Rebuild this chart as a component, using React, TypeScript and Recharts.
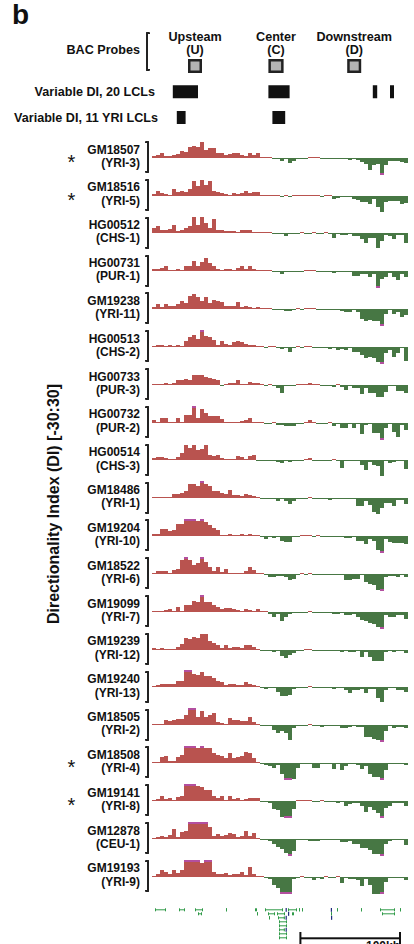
import React from 'react';
import { BarChart, Bar, XAxis, YAxis } from 'recharts';

// 20 LCLs, top to bottom
const SAMPLES = ['GM18507', 'GM18516', 'HG00512', 'HG00731', 'GM19238', 'HG00513', 'HG00733', 'HG00732', 'HG00514', 'GM18486',
  'GM19204', 'GM18522', 'GM19099', 'GM19239', 'GM19240', 'GM18505', 'GM18508', 'GM19141', 'GM12878', 'GM19193'];
const POPULATIONS = ['YRI-3', 'YRI-5', 'CHS-1', 'PUR-1', 'YRI-11', 'CHS-2', 'PUR-3', 'PUR-2', 'CHS-3', 'YRI-1',
  'YRI-10', 'YRI-6', 'YRI-7', 'YRI-12', 'YRI-13', 'YRI-2', 'YRI-4', 'YRI-8', 'CEU-1', 'YRI-9'];
const STARRED = ['GM18507', 'GM18516', 'GM18508', 'GM19141'];

// directionality index per bin (values beyond +-30 are clipped in the plot)
const DI_GM18507 = [4, 5, 9, 4, 4, 6, 7, 13, 11, 20, 22, 19, 29, 15, 18, 17, 8, 9, 6, 7, 8, 9, 5, 4, 8, 6, 8, 1, 1, 1, -1, -1, -6, -2, -8, -6, -2, -1, -1, 1, 2, 2, -1, -1, -1, -1, -1, -1, -2, -3, -2, -3, -7, -11, -21, -12, -10, -34, -12, -6, -6, -6, -7, -9];
const DI_GM18516 = [4, 9, 6, 4, 2, 13, 7, 9, 7, 12, 27, 17, 29, 19, 26, 9, 7, 5, 4, 2, 5, 3, 5, 8, 6, 7, 7, 1, 1, 1, 1, 1, -2, 1, -2, 1, 1, 1, 1, 2, 1, 1, -1, 1, 1, -6, -3, -1, -1, -1, -6, -7, -10, -10, -14, -6, -20, -28, -10, -8, -8, -8, -14, -12];
const DI_HG00512 = [8, 12, 5, 6, 7, 15, 4, 6, 8, 13, 28, 15, 29, 18, 9, 24, 6, 5, 4, 4, 4, 1, 6, 5, 5, 1, 1, 1, 1, 1, -1, -1, -1, -5, -1, -1, -1, 1, -1, -1, 1, -1, -1, 1, -1, -8, -1, -3, -3, -1, -5, -5, -10, -18, -8, -8, -26, -14, -3, -5, -10, -3, -3, -18];
const DI_HG00731 = [4, 3, 5, 9, 2, 2, 3, 1, 8, 9, 17, 8, 16, 23, 15, 8, 4, 2, 4, 4, 2, 5, 8, 3, 9, 3, 1, 2, 1, 1, -1, -1, -6, -2, -2, -1, -1, -1, 1, 1, 1, -1, -1, -1, -1, -3, -1, -1, -2, -2, -8, -8, -6, -6, -10, -6, -34, -14, -10, -3, -10, -16, -5, -10];
const DI_GM19238 = [4, 9, 3, 9, 6, 6, 8, 15, 10, 23, 27, 21, 15, 22, 11, 16, 15, 12, 6, 5, 5, 12, 4, 5, 4, 2, 3, 2, 1, 1, -1, -1, -1, -3, -3, -2, 1, -1, 1, 1, 1, -1, -1, -1, -2, -1, -1, -3, -6, -5, -2, -6, -18, -22, -20, -22, -22, -34, -8, -2, -8, -5, -14, -10];
const DI_HG00513 = [2, 3, 3, 2, 3, 1, 4, 2, 10, 18, 22, 15, 33, 19, 17, 13, 4, 10, 6, 4, 8, 10, 8, 5, 3, 4, 1, 1, -1, 1, 1, -1, -3, -1, -8, -1, 1, -1, 1, 1, -1, -1, -1, -1, -3, -1, -5, -3, -6, -1, -8, -8, -14, -20, -18, -20, -26, -34, -10, -5, -18, -10, -2, -24];
const DI_HG00733 = [2, 2, 2, 4, 2, 3, 8, 8, 11, 9, 17, 18, 18, 15, 12, 10, 8, -1, 2, 3, 4, 8, 2, 1, 6, 4, 3, 1, -1, 1, -1, -5, -14, -1, -1, -1, 1, 1, 1, 3, 1, 1, -1, -1, -1, -3, 1, -3, -8, -1, -6, -6, -16, -6, -14, -14, -22, -22, -12, -1, -1, -10, -10, -14];
const DI_HG00732 = [5, 1, 9, 8, 2, 1, 9, 2, 15, 15, 33, 8, 25, 18, 13, 13, 12, 7, 2, 2, 2, 2, 3, 6, 9, 1, 1, 1, -1, -1, 1, -3, -3, -6, -6, -6, -1, -1, 1, 6, 2, -1, -1, -1, 1, -6, -2, -8, -8, -1, -8, -1, -20, -3, -2, -18, -18, -34, -8, -2, -16, -24, -3, -12];
const DI_HG00514 = [4, 5, 6, 4, 1, 2, 6, 12, 27, 22, 27, 18, 20, 27, 9, 7, 9, 4, 2, 2, 1, 7, 6, 1, 7, 8, -1, -1, -1, -1, -1, -4, -6, -1, -4, -1, -1, -1, 1, 3, -1, -1, -1, -1, -1, 1, -1, -14, -1, -1, -1, -1, -8, -18, -3, -8, -10, -28, -1, -6, -3, -1, -1, -16];
const DI_GM18486 = [1, 1, 1, 2, 1, 7, 7, 9, 13, 25, 24, 21, 32, 24, 21, 13, 13, 9, 7, 14, 5, 6, 4, 7, 5, 4, 2, -1, -1, -1, -1, -5, -1, -6, -10, -6, -2, -2, -2, 2, -1, -1, -1, -1, -3, -1, -1, -2, -2, -1, -1, -14, -14, -6, -12, -24, -28, -18, -8, -8, -14, -4, -4, -10];
const DI_GM19204 = [4, 4, 13, 13, 8, 11, 21, 21, 33, 33, 33, 26, 33, 24, 19, 14, 11, 2, 2, 4, 1, 2, 4, 1, 4, 1, 1, -1, -6, -1, -3, -1, -8, -10, -10, -1, -1, 1, 1, 2, -1, 1, -1, -1, -1, -1, -1, -2, -4, -4, -1, -8, -8, -14, -6, -8, -24, -34, -6, -10, -12, -12, -12, -14];
const DI_GM18522 = [1, 5, 5, 5, 2, 7, 8, 25, 33, 25, 16, 19, 33, 22, 12, 5, 12, 4, 9, 1, 1, 1, 1, 6, 13, 7, 1, 1, -1, -5, -5, -4, -4, -6, -10, -8, -2, 2, -1, 2, -1, -1, -1, -1, -1, -1, -1, -1, -10, -10, -8, -8, -2, -14, -18, -20, -28, -34, -6, -4, -4, -5, -1, -5];
const DI_GM19099 = [2, 1, 2, 3, 6, 2, 8, 1, 12, 13, 20, 18, 33, 18, 17, 12, 9, 5, 7, 7, 5, 4, 2, 6, 4, 2, 5, 1, 1, -3, -8, -4, -16, -8, -4, -1, -1, -1, -1, 2, -1, -1, -1, -1, -1, -3, -3, -1, -5, -5, -4, -8, -14, -16, -20, -22, -26, -34, -6, -8, -8, -6, -6, -12];
const DI_GM19239 = [3, 2, 4, 2, 2, 2, 6, 10, 21, 20, 23, 22, 28, 28, 16, 12, 9, 3, 8, 4, 6, 6, 3, 8, 9, 6, 2, -1, -1, -1, -4, -1, -10, -14, -8, -6, -1, -1, 1, 1, -1, -1, -1, -1, -1, -1, -1, -4, -1, -4, -4, -1, -12, -4, -12, -20, -20, -20, -4, -1, -4, -1, -1, -6];
const DI_GM19240 = [2, 3, 6, 5, 6, 5, 10, 10, 33, 33, 23, 22, 27, 19, 19, 16, 11, 9, 4, 5, 6, 4, 3, 8, 6, 3, 2, -1, -4, -2, -2, -8, -16, -16, -14, -4, -1, -1, -1, 2, -1, -1, -1, -1, -1, -3, -1, -1, -6, -10, -6, -6, -4, -10, -4, -4, -20, -26, -6, -1, -1, -6, -6, -8];
const DI_GM18505 = [1, 2, 2, 8, 7, 8, 11, 11, 18, 33, 33, 14, 24, 14, 17, 21, 5, 4, 1, 12, 8, 8, 7, 7, 14, 5, 2, -1, -1, -1, -8, -14, -10, -14, -26, -6, -1, -1, -1, 1, -1, -1, -3, -1, -1, -1, -1, -6, -6, -4, -1, -4, -4, -22, -22, -24, -26, -34, -10, -1, -6, -4, -4, -6];
const DI_GM18508 = [1, 1, 10, 12, 4, 4, 10, 14, 33, 33, 33, 27, 33, 27, 26, 18, 14, 12, 8, 18, 8, 11, 13, 19, 17, 8, 1, -1, -4, -6, -8, -4, -20, -34, -34, -28, -8, -1, -1, -1, -8, -8, -1, -1, -1, -10, -1, -12, -6, -1, -1, -4, -10, -6, -20, -24, -24, -34, -12, -1, -1, -1, -1, -4];
const DI_GM19141 = [1, 4, 8, 4, 5, 2, 7, 9, 33, 33, 33, 26, 24, 20, 20, 8, 6, 8, 2, 8, 4, 5, 2, 4, 6, 6, 5, -1, -2, -3, -14, -16, -28, -34, -34, -14, 1, 1, 1, 1, -1, -1, 1, -1, -1, -1, -4, -1, -8, -6, -4, -4, -8, -20, -10, -16, -22, -34, -12, -8, -4, -4, -4, -8];
const DI_GM12878 = [2, 3, 6, 3, 7, 18, 3, 12, 15, 33, 33, 33, 33, 33, 21, 5, 8, 6, 7, 11, 9, 3, 6, 15, 5, 11, 1, -1, -1, -3, -8, -14, -18, -24, -34, -22, -1, -1, -1, -4, -4, -4, -1, -1, -1, -2, -1, -6, -6, -4, -8, -8, -16, -16, -20, -26, -26, -34, -8, -3, -2, -2, -2, -10];
const DI_GM19193 = [1, 6, 12, 8, 5, 13, 7, 12, 33, 33, 33, 33, 24, 33, 33, 8, 5, 6, 7, 4, 5, 5, 8, 4, 18, 6, 1, 1, -1, -4, -14, -20, -34, -34, -34, -4, -1, 1, -1, -1, -6, -1, -3, 1, -1, -1, 1, -10, -1, -4, -4, -6, -16, -4, -14, -30, -30, -34, -8, -2, -2, -2, -2, -6];

const DI_ROWS = [DI_GM18507, DI_GM18516, DI_HG00512, DI_HG00731, DI_GM19238, DI_HG00513, DI_HG00733, DI_HG00732, DI_HG00514, DI_GM18486,
  DI_GM19204, DI_GM18522, DI_GM19099, DI_GM19239, DI_GM19240, DI_GM18505, DI_GM18508, DI_GM19141, DI_GM12878, DI_GM19193];

// header tracks, in bin units along the region
const PROBE_NAMES = ['Upsteam', 'Center', 'Downstream'];
const PROBE_TAGS = ['(U)', '(C)', '(D)'];
const PROBE_BINS = [[9.0, 12.5], [29.1, 32.9], [48.8, 52.3]];
const VAR_DI_20 = [[5.2, 11.5], [29.1, 34.4], [55.2, 56.3], [59.5, 60.5]];
const VAR_DI_11 = [[6.2, 8.4], [30.1, 33.3]];

// gene track: [start, end, lane, isBlue]
const GENES = [
  [0.75, 3.5, 0, 0], [6.75, 8.25, 0, 0], [10.75, 12.75, 0, 0], [18.5, 18.75, 0, 0], [25.75, 26.25, 0, 0], [28.25, 32.75, 0, 0],
  [33.4, 33.7, 0, 1], [34, 36.25, 0, 0], [36.75, 37, 0, 0], [37.5, 37.75, 0, 0], [44.7, 45, 0, 1], [46.25, 46.5, 0, 0],
  [52.25, 52.5, 0, 0], [57, 60.75, 0, 0], [62, 62.25, 0, 0],
  [11.5, 12.5, 1, 0], [26.25, 26.5, 1, 0], [29, 30.75, 1, 0], [31.25, 33.25, 1, 0], [34, 34.3, 1, 1], [35, 35.5, 1, 0],
  [44.75, 45, 1, 0], [57.5, 60.75, 1, 0],
  [29.25, 29.5, 2, 0], [31.5, 33.2, 2, 0], [33.4, 33.7, 2, 1], [44.75, 45.05, 2, 1],
  [31.75, 33.75, 3, 0], [31.75, 33.75, 4, 0], [31.75, 33.2, 5, 0], [33.4, 33.7, 5, 1], [31.75, 33.75, 6, 0], [31.75, 33.75, 7, 0],
];
const GENE_LANES = [0, 1, 2, 3, 4, 5, 6, 7];
const SCALE_BAR = [37.1, 62]; // 100 kb

const RED = '#b9534f';
const GREEN = '#477744';
const PURPLE = '#b34f9f';
const GENE_GREEN = '#2f9a48';
const GENE_BLUE = '#1f2a7c';
const FONT = '"Liberation Sans", Arial, sans-serif';

const ROW0_BASE = 157.7;
const ROW_STEP = 37.84;
const PLOT_LEFT = 152;
const PLOT_W = 256;
const BINS = DI_GM18507.map((_, i) => i);
const X_DOMAIN = [0, BINS.length];

// turn sorted [start, end] blocks into gap / block pairs for a stacked bar
const toStack = (blocks: number[][]) => {
  const row: any = { n: blocks.length, blue: blocks.map((b) => b[3] || 0) };
  let prev = 0;
  blocks.forEach((b, k) => {
    row['g' + k] = b[0] - prev;
    row['b' + k] = b[1] - b[0];
    prev = b[1];
  });
  return row;
};

const HEADER_DATA = [
  { lane: 'probe', ...toStack(PROBE_BINS) },
  { lane: 'var20', ...toStack(VAR_DI_20) },
  { lane: 'var11', ...toStack(VAR_DI_11) },
];
const HEADER_MAX = Math.max(...HEADER_DATA.map((d) => d.n));

const GENE_DATA = GENE_LANES.map((l) => ({ lane: l, ...toStack(GENES.filter((g) => g[2] === l).sort((a, b) => a[0] - b[0])) }));
const GENE_MAX = Math.max(...GENE_DATA.map((d) => d.n));

const DiBar = (props: any) => {
  const { x, y, width, height, payload } = props;
  const base = y + height;
  const h = Math.max(1, Math.abs(height));
  const up = payload.di >= 0;
  const top = up ? base - h : base;
  return (
    <g>
      <rect x={x} y={top} width={width} height={h} fill={up ? RED : GREEN} shapeRendering="crispEdges" />
      {payload.clipped && (
        <rect x={x} y={up ? top : base + h - 2} width={width} height={2} fill={PURPLE} shapeRendering="crispEdges" />
      )}
    </g>
  );
};

const headerBlock = (k: number) => (props: any) => {
  const { x, y, width, height, payload } = props;
  if (k >= payload.n) return <g />;
  if (payload.lane === 'probe') {
    return <rect x={x + 1.25} y={y + 1.25} width={width - 2.5} height={height - 2.5} fill="#b3b3b3" stroke="#222" strokeWidth={2.5} />;
  }
  return <rect x={x} y={y + 0.5} width={width} height={height - 1} fill="#111" />;
};

const geneBlock = (k: number) => (props: any) => {
  const { x, y, width, height, payload } = props;
  if (k >= payload.n) return <g />;
  const cy = y + height / 2;
  if (payload.blue[k]) {
    return <rect x={x} y={cy - 2} width={Math.max(1.2, width)} height={4} fill={GENE_BLUE} />;
  }
  return (
    <g fill={GENE_GREEN}>
      <rect x={x} y={cy - 0.5} width={Math.max(1, width)} height={1} />
      <rect x={x} y={cy - 1.5} width={1} height={3} />
      <rect x={x + Math.max(1, width) - 1} y={cy - 1.5} width={1} height={3} />
    </g>
  );
};

const ScaleShape = (props: any) => {
  const { x, y, width, height } = props;
  const cy = y + height / 2;
  return (
    <g fill="#111">
      <rect x={x} y={cy - 1} width={width} height={2} />
      <rect x={x - 1} y={y} width={2} height={height} />
      <rect x={x + width - 1} y={y} width={2} height={height} />
    </g>
  );
};

const none = () => <g />;

const abs: React.CSSProperties = { position: 'absolute' };

export default function App() {
  return (
    <div style={{ ...abs, left: 0, top: 0, width: 414, height: 944, background: '#fff', overflow: 'hidden', fontFamily: FONT, color: '#111', fontWeight: 'bold' }}>
      <div style={{ ...abs, left: 12, top: 1, fontSize: 28, lineHeight: '28px' }}>b</div>

      {/* header */}
      <div style={{ ...abs, left: 0, top: 43.1, width: 140, textAlign: 'right', fontSize: 12.6, lineHeight: '14px' }}>BAC Probes</div>
      <div style={{ ...abs, left: 146, top: 32, width: 4, height: 39, boxSizing: 'border-box', borderLeft: '2px solid #222', borderTop: '2px solid #222', borderBottom: '2px solid #222', borderRadius: 1 }} />
      {PROBE_NAMES.map((n, k) => (
        <div key={n} style={{ ...abs, left: PLOT_LEFT + ((PROBE_BINS[k][0] + PROBE_BINS[k][1]) / 2) * (PLOT_W / BINS.length) - 50, top: 30.5, width: 100, textAlign: 'center', fontSize: 12.6, lineHeight: '13.3px' }}>
          {n}<br />{PROBE_TAGS[k]}
        </div>
      ))}
      <div style={{ ...abs, left: 0, top: 84.5, width: 155, textAlign: 'right', fontSize: 12.6, lineHeight: '14px' }}>Variable DI, 20 LCLs</div>
      <div style={{ ...abs, left: 0, top: 111.4, width: 158, textAlign: 'right', fontSize: 12.6, lineHeight: '14px' }}>Variable DI, 11 YRI LCLs</div>
      <div style={{ ...abs, left: PLOT_LEFT, top: 53.1 }}>
        <BarChart layout="vertical" width={PLOT_W} height={77.25} data={HEADER_DATA} margin={{ top: 0, right: 0, bottom: 0, left: 0 }} barSize={14}>
          <XAxis type="number" domain={X_DOMAIN} hide />
          <YAxis type="category" dataKey="lane" hide />
          {Array.from({ length: HEADER_MAX }).flatMap((_, k) => [
            <Bar key={'g' + k} dataKey={'g' + k} stackId="s" isAnimationActive={false} shape={none} />,
            <Bar key={'b' + k} dataKey={'b' + k} stackId="s" isAnimationActive={false} shape={headerBlock(k)} />,
          ])}
        </BarChart>
      </div>

      {/* y-axis title */}
      <div style={{ ...abs, left: 54 - 160, top: 504 - 10, width: 320, height: 20, lineHeight: '20px', textAlign: 'center', fontSize: 16, transform: 'rotate(-90deg)' }}>
        Directionality Index (DI) [-30:30]
      </div>

      {DI_ROWS.map((vals, i) => {
        const base = ROW0_BASE + i * ROW_STEP;
        const data = BINS.map((b) => ({ bin: b, di: Math.max(-30, Math.min(30, vals[b])), clipped: Math.abs(vals[b]) > 30 }));
        return (
          <React.Fragment key={SAMPLES[i]}>
            {STARRED.includes(SAMPLES[i]) && (
              <div style={{ ...abs, left: 61.5, top: base - 6, width: 20, textAlign: 'center', fontSize: 20, lineHeight: '20px', fontWeight: 'normal' }}>*</div>
            )}
            <div style={{ ...abs, left: 0, top: base - 14.2, width: 140, textAlign: 'right', fontSize: 12, lineHeight: '13.3px' }}>
              {SAMPLES[i]}<br />({POPULATIONS[i]})
            </div>
            <div style={{ ...abs, left: 145, top: base - 16.7, width: 4, height: 32, boxSizing: 'border-box', borderTop: '2px solid #222', borderRight: '2px solid #222', borderBottom: '2px solid #222', borderRadius: 1 }} />
            <div style={{ ...abs, left: PLOT_LEFT, top: base - 17 }}>
              <BarChart width={PLOT_W} height={34} data={data} margin={{ top: 0, right: 0, bottom: 0, left: 0 }} barCategoryGap={0} barGap={0}>
                <XAxis dataKey="bin" hide />
                <YAxis type="number" domain={[-30, 30]} hide />
                <Bar dataKey="di" isAnimationActive={false} shape={DiBar} />
              </BarChart>
            </div>
          </React.Fragment>
        );
      })}

      {/* gene track */}
      <div style={{ ...abs, left: PLOT_LEFT, top: 908 }}>
        <BarChart layout="vertical" width={PLOT_W} height={32} data={GENE_DATA} margin={{ top: 0, right: 0, bottom: 0, left: 0 }} barSize={4}>
          <XAxis type="number" domain={X_DOMAIN} hide />
          <YAxis type="category" dataKey="lane" hide />
          {Array.from({ length: GENE_MAX }).flatMap((_, k) => [
            <Bar key={'g' + k} dataKey={'g' + k} stackId="s" isAnimationActive={false} shape={none} />,
            <Bar key={'b' + k} dataKey={'b' + k} stackId="s" isAnimationActive={false} shape={geneBlock(k)} />,
          ])}
        </BarChart>
      </div>

      {/* 100 kb scale bar */}
      <div style={{ ...abs, left: PLOT_LEFT, top: 930.7 }}>
        <BarChart layout="vertical" width={PLOT_W} height={14} data={[{ name: '100kb', range: SCALE_BAR }]} margin={{ top: 0, right: 0, bottom: 0, left: 0 }} barSize={14}>
          <XAxis type="number" domain={X_DOMAIN} hide />
          <YAxis type="category" dataKey="name" hide />
          <Bar dataKey="range" isAnimationActive={false} shape={ScaleShape} />
        </BarChart>
      </div>
      <div style={{ ...abs, left: 353, top: 939.4, width: 60, textAlign: 'center', fontSize: 12, lineHeight: '14px' }}>100kb</div>
    </div>
  );
}
